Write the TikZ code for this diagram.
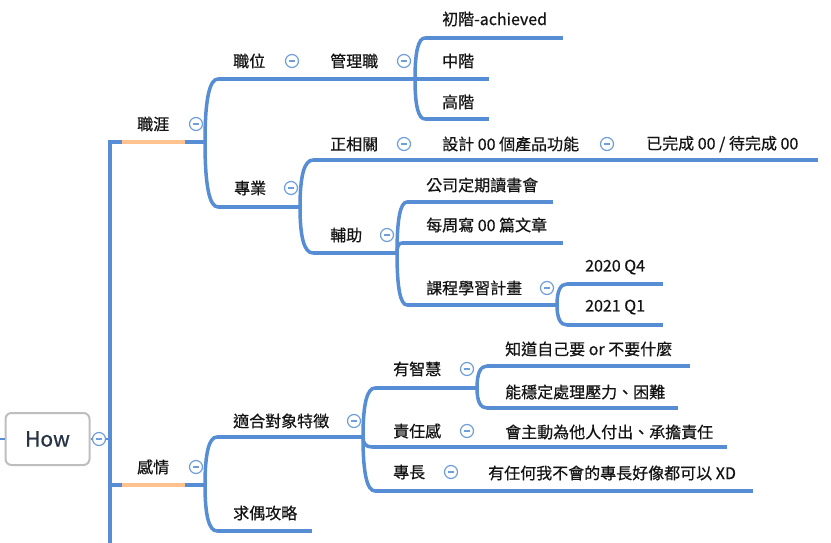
\documentclass[tikz,border=0pt]{standalone}
\usepackage{fontspec}
\setmainfont{Noto Sans CJK TC}[FakeBold=0.6]
\usetikzlibrary{calc}
\definecolor{br}{RGB}{86,141,213}
\definecolor{org}{RGB}{255,193,142}
\definecolor{icon}{RGB}{112,158,219}
\definecolor{txt}{RGB}{20,20,20}
\definecolor{rootgray}{RGB}{190,190,190}
\definecolor{howc}{RGB}{40,52,70}
\newcommand\mtopic[7]{%
  \coordinate (#1s) at (#2,#4);
  \coordinate (#1e) at (#3,#4);
  \draw[branch] (#1s) -- (#1e);
  \node[lbl] (#1) at (#5,#6) {#7};}
\newcommand\mbrk[2]{%
  \draw[curve] (#1) .. controls ($(#1)!0.667!(#1|-#2)$) and ($(#2)!0.667!(#1|-#2)$) .. (#2);}
\newcommand\mfold[3]{\node[foldbtn] (#1) at (#2,#3) {};}
\begin{document}
\begin{tikzpicture}[x=1pt,y=-1pt,
  branch/.style={draw=br,line width=3.5pt},
  curve/.style={draw=br,line width=3.5pt,line cap=round},
  lbl/.style={anchor=west,inner sep=0pt,font=\fontsize{16}{19}\selectfont,text=txt},
  foldbtn/.style={circle,draw=icon,fill=white,line width=1.2pt,minimum size=13pt,inner sep=0pt,
    path picture={\draw[icon,line width=1.3pt] ([xshift=-3pt]path picture bounding box.center) -- ([xshift=3pt]path picture bounding box.center);}},
]
\useasboundingbox (0,0) rectangle (831,543);

% root
\node[draw=rootgray,line width=2pt,rounded corners=6pt,minimum width=84pt,minimum height=52pt,
  font=\fontsize{21}{24}\selectfont,text=howc,fill=white] (root) at (47.5,439) {How};
\coordinate (in) at (0,439);
\coordinate (t0) at (110,439);
\draw[br,line width=1.2pt] (in) -- (root);
\draw[br,line width=2pt] (root) -- (t0);
\mfold{f0}{99}{439}

% trunk and main branches
\coordinate (tb) at (110,543);
\coordinate (zyA) at (110,142);
\coordinate (zyB) at (122,142);
\coordinate (zyC) at (185,142);
\coordinate (zyE) at (205,142);
\draw[branch] (tb) -- (zyA) -- (zyB);
\draw[branch,draw=org] (zyB) -- (zyC);
\draw[branch] (zyC) -- (zyE);
\node[lbl] (zy) at (137,124) {職涯};
\mfold{f1}{196}{124}

\coordinate (gqA) at (110,485);
\coordinate (gqB) at (122,485);
\coordinate (gqC) at (185,485);
\coordinate (gqE) at (205,485);
\draw[branch] (gqA) -- (gqB);
\draw[branch,draw=org] (gqB) -- (gqC);
\draw[branch] (gqC) -- (gqE);
\node[lbl] (gq) at (137,467) {感情};
\mfold{f2}{196}{467}

% career
\mtopic{zw}{218}{310}{79}{233}{61}{職位}
\mfold{f3}{292}{61}
\mtopic{gl}{310}{415}{79}{330}{61}{管理職}
\mfold{f4}{404}{61}
\mtopic{zp}{218}{300}{207}{234}{188}{專業}
\mfold{f5}{291}{188}
\mbrk{zyE}{zws}
\mbrk{zyE}{zps}

\mtopic{ca}{425}{563}{38}{442}{19}{初階-achieved}
\mtopic{cb}{415}{489}{79}{442}{61}{中階}
\mtopic{cc}{425}{489}{119}{442}{102}{高階}
\mbrk{gle}{cas}
\mbrk{gle}{ccs}

\mtopic{zx}{313}{425}{160}{330}{144}{正相關}
\mfold{f6}{404}{144}
\mtopic{sj}{425}{625}{160}{442}{144}{設計 00 個產品功能}
\mfold{f7}{607}{144}
\mtopic{yw}{625}{818}{160}{646}{144}{已完成 00 / 待完成 00}
\mtopic{fz}{313}{397}{253}{330}{235}{輔助}
\mfold{f8}{387}{235}
\mbrk{zpe}{zxs}
\mbrk{zpe}{fzs}

\mtopic{gs}{407}{553}{202}{426}{185}{公司定期讀書會}
\mtopic{mz}{402}{563}{243}{426}{225}{每周寫 00 篇文章}
\mtopic{kc}{407}{557}{305}{426}{288}{課程學習計畫}
\mfold{f9}{547}{288}
\mbrk{fze}{gss}
\mbrk{fze}{mzs}
\mbrk{fze}{kcs}

\mtopic{qa}{567}{663}{284}{585}{267}{2020 Q4}
\mtopic{qb}{567}{663}{325}{585}{307}{2021 Q1}
\mbrk{kce}{qas}
\mbrk{kce}{qbs}

% relationship
\mtopic{sh}{217}{363}{437}{233}{421}{適合對象特徵}
\mfold{f10}{354}{421}
\mtopic{qo}{217}{312}{531}{233}{513}{求偶攻略}
\mbrk{gqE}{shs}
\mbrk{gqE}{qos}

\mtopic{yz}{375}{477}{388}{393}{369}{有智慧}
\mfold{f11}{467}{369}
\mtopic{zr}{372}{477}{447}{393}{431}{責任感}
\mfold{f12}{467}{431}
\mtopic{hz}{477}{727}{447}{505}{432}{會主動為他人付出、承擔責任}
\mtopic{zc}{375}{470}{491}{393}{472}{專長}
\mfold{f13}{451}{472}
\mtopic{yr}{470}{753}{491}{488}{473}{有任何我不會的專長好像都可以 XD}
\mbrk{she}{yzs}
\mbrk{she}{zrs}
\mbrk{she}{zcs}

\mtopic{zd}{487}{690}{366}{505}{349}{知道自己要 or 不要什麼}
\mtopic{nw}{487}{678}{408}{505}{392}{能穩定處理壓力、困難}
\mbrk{yze}{zds}
\mbrk{yze}{nws}
\end{tikzpicture}
\end{document}
